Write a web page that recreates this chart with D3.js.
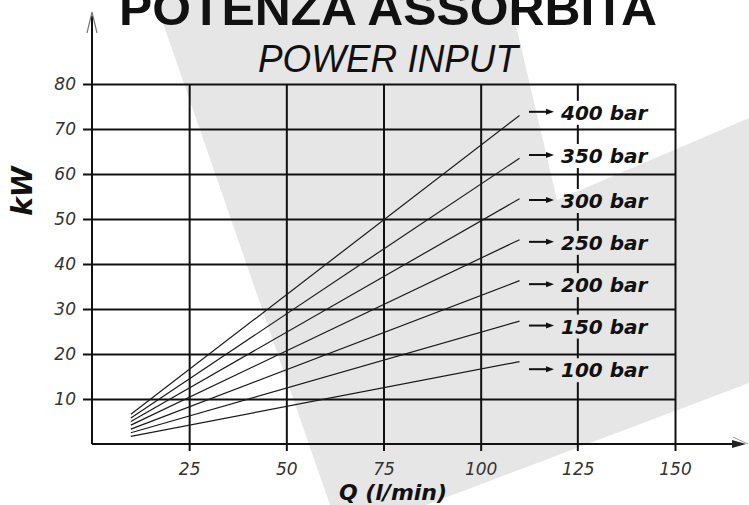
<!DOCTYPE html>
<html>
<head>
<meta charset="utf-8">
<script src="https://cdn.jsdelivr.net/npm/d3@7/dist/d3.min.js"></script>
<style>
  body { margin: 0; background: #fff; }
  svg { display: block; }
</style>
</head>
<body>
<div id="chart"></div>
<script>
var svgWidth = 749;
var svgHeight = 505;

// Data
var pressures = ["100 bar", "150 bar", "200 bar", "250 bar", "300 bar", "350 bar", "400 bar"];
var flowStart = 10;   // l/min
var flowEnd = 110;    // l/min
var kwStart = [1.7, 2.5, 3.3, 4.2, 5.0, 5.8, 6.6];
var kwEnd = [18.3, 27.3, 36.3, 45.4, 54.5, 63.5, 73.0];
var labelKw = [16.4, 26.1, 35.3, 44.7, 54.0, 64.0, 73.6];
var xTicks = [25, 50, 75, 100, 125, 150];
var yTicks = [10, 20, 30, 40, 50, 60, 70, 80];

var svg = d3.select("#chart")
  .append("svg")
  .attr("width", svgWidth)
  .attr("height", svgHeight);

// grey watermark behind the chart
svg.append("path")
  .attr("d", "M155,0 L330,505 L426,505 L749,383 L749,118 L557,200 L510,0 Z")
  .attr("fill", "#e6e6e6");

var x = d3.scaleLinear().domain([0, 150]).range([92, 675]);
var y = d3.scaleLinear().domain([0, 80]).range([444, 84]);

// horizontal grid + y tick labels
var yAxis = svg.append("g")
  .attr("transform", "translate(675,0)")
  .call(d3.axisLeft(y).tickValues(yTicks).tickSize(592).tickPadding(7));
yAxis.select(".domain").remove();
yAxis.selectAll(".tick line").attr("stroke", "#111").attr("stroke-width", 2);
yAxis.selectAll(".tick text")
  .attr("font-family", "DejaVu Sans")
  .attr("font-style", "oblique")
  .attr("font-size", 17)
  .attr("fill", "#333");

// vertical grid + x tick labels
var xAxis = svg.append("g")
  .attr("transform", "translate(0,84)")
  .call(d3.axisBottom(x).tickValues(xTicks).tickSize(367).tickPadding(12));
xAxis.select(".domain").remove();
xAxis.selectAll(".tick line")
  .attr("stroke", "#111").attr("stroke-width", 2)
  .attr("display", d => d === 125 ? "none" : null);
xAxis.selectAll(".tick text")
  .attr("font-family", "DejaVu Sans")
  .attr("font-style", "oblique")
  .attr("font-size", 17)
  .attr("fill", "#333");

// the 125 line is broken where the pressure labels sit
var stops = [y(80)];
labelKw.slice().reverse().forEach(function(k) {
  stops.push(y(k) - 12);
  stops.push(y(k) + 12);
});
stops.push(451);
for (var i = 0; i < stops.length; i += 2) {
  svg.append("line")
    .attr("x1", x(125)).attr("x2", x(125))
    .attr("y1", stops[i]).attr("y2", stops[i + 1])
    .attr("stroke", "#111").attr("stroke-width", 2);
}

// axes with arrows
svg.append("line")
  .attr("x1", x(0)).attr("x2", x(0))
  .attr("y1", y(0)).attr("y2", 16)
  .attr("stroke", "#111").attr("stroke-width", 2);
svg.append("path")
  .attr("d", "M87,33 L92,12 L97,33")
  .attr("fill", "none").attr("stroke", "#777").attr("stroke-width", 1.2);

svg.append("line")
  .attr("x1", x(0)).attr("x2", 742)
  .attr("y1", y(0)).attr("y2", y(0))
  .attr("stroke", "#111").attr("stroke-width", 2);
svg.append("path")
  .attr("d", "M732,440 L746,444 L732,448 Z")
  .attr("fill", "#222");
svg.append("path")
  .attr("d", "M733,437 L748,444")
  .attr("fill", "none").attr("stroke", "#999").attr("stroke-width", 1);

// pressure curves
var curves = pressures.map(function(p, i) {
  return { name: p, pts: [[flowStart, kwStart[i]], [flowEnd, kwEnd[i]]] };
});

var line = d3.line()
  .x(d => x(d[0]))
  .y(d => y(d[1]));

svg.selectAll("path.curve")
  .data(curves)
  .enter()
  .append("path")
  .attr("class", "curve")
  .attr("d", d => line(d.pts))
  .attr("fill", "none")
  .attr("stroke", "#1a1a1a")
  .attr("stroke-width", 1.2);

// labels with arrows
var labels = svg.selectAll("g.lab")
  .data(pressures)
  .enter()
  .append("g")
  .attr("class", "lab")
  .attr("transform", (d, i) => `translate(0, ${y(labelKw[i])})`);

labels.append("line")
  .attr("x1", 529).attr("x2", 548)
  .attr("y1", -1).attr("y2", -1)
  .attr("stroke", "#111").attr("stroke-width", 2);
labels.append("path")
  .attr("d", "M546,-4 L554,-1 L546,2 Z")
  .attr("fill", "#111");
labels.append("text")
  .attr("x", 561)
  .attr("y", 7)
  .attr("font-family", "DejaVu Sans")
  .attr("font-weight", "bold")
  .attr("font-style", "oblique")
  .attr("font-size", 20)
  .attr("fill", "#111")
  .text(d => d);

// titles
svg.append("text")
  .attr("x", 119).attr("y", 25)
  .attr("font-family", "Liberation Sans")
  .attr("font-weight", "bold")
  .attr("font-size", 49)
  .attr("textLength", 538)
  .attr("lengthAdjust", "spacingAndGlyphs")
  .attr("fill", "#111")
  .text("POTENZA ASSORBITA");

svg.append("text")
  .attr("x", 258).attr("y", 72)
  .attr("font-family", "Liberation Sans")
  .attr("font-style", "italic")
  .attr("font-size", 38)
  .attr("textLength", 260)
  .attr("lengthAdjust", "spacingAndGlyphs")
  .attr("fill", "#111")
  .text("POWER INPUT");

svg.append("text")
  .attr("transform", "translate(32,191) rotate(-90)")
  .attr("text-anchor", "middle")
  .attr("font-family", "DejaVu Sans")
  .attr("font-weight", "bold")
  .attr("font-style", "oblique")
  .attr("font-size", 28)
  .attr("fill", "#111")
  .text("kW");

svg.append("text")
  .attr("x", 393).attr("y", 500)
  .attr("text-anchor", "middle")
  .attr("font-family", "DejaVu Sans")
  .attr("font-weight", "bold")
  .attr("font-style", "oblique")
  .attr("font-size", 22)
  .attr("fill", "#111")
  .text("Q (l/min)");
</script>
</body>
</html>
